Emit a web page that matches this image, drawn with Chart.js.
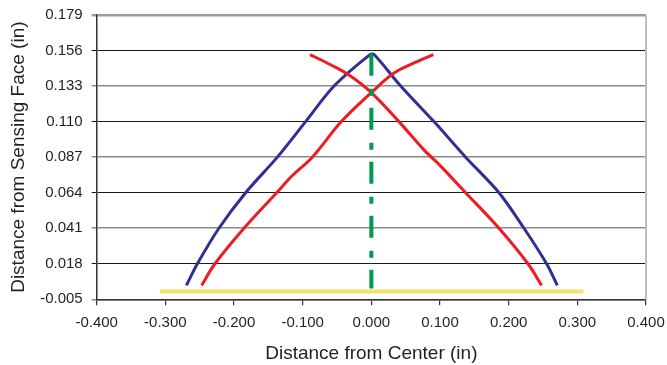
<!DOCTYPE html>
<html>
<head>
<meta charset="utf-8">
<script src="https://cdn.jsdelivr.net/npm/chart.js@4/dist/chart.umd.min.js"></script>
<style>
  html, body { margin: 0; padding: 0; background: #ffffff; }
  #wrap { width: 667px; height: 365px; position: relative; }
</style>
</head>
<body>
<div id="wrap"><canvas id="chart" width="667" height="365"></canvas></div>
<script>
// Axis ticks and their labels
const xTicks = [-0.4, -0.3, -0.2, -0.1, 0, 0.1, 0.2, 0.3, 0.4];
const xTickLabels = ['-0.400', '-0.300', '-0.200', '-0.100', '0.000', '0.100', '0.200', '0.300', '0.400'];
const yTicks = [-0.005, 0.018, 0.041, 0.064, 0.087, 0.110, 0.133, 0.156, 0.179];
const yTickLabels = ['-0.005', '0.018', '0.041', '0.064', '0.087', '0.110', '0.133', '0.156', '0.179'];

// Blue envelope (distance from center, distance from face)
const blueX = [-0.2694, -0.2534, -0.2220, -0.1831, -0.1369, -0.0957, -0.0544, -0.0020,
               0.0040, 0.0427, 0.0912, 0.1373, 0.1859, 0.2223, 0.2553, 0.2709];
const blueY = [0.004, 0.018, 0.041, 0.064, 0.087, 0.110, 0.133, 0.1534,
               0.1534, 0.133, 0.110, 0.087, 0.064, 0.041, 0.018, 0.004];

// Red curve rising to the right
const redUpX = [-0.2472, -0.2278, -0.1855, -0.1379, -0.1150, -0.0860, -0.0437,
                0.0000, 0.0330, 0.0600, 0.0903];
const redUpY = [0.004, 0.018, 0.041, 0.064, 0.0751, 0.087, 0.110,
                0.1288, 0.1414, 0.1475, 0.1534];

// Red curve falling to the right
const redDownX = [-0.0894, -0.0593, -0.0326, 0.0000, 0.0402, 0.0766, 0.1009, 0.1373,
                  0.1859, 0.2281, 0.2480];
const redDownY = [0.1534, 0.1468, 0.1402, 0.1288, 0.110, 0.0917, 0.0812, 0.064,
                  0.041, 0.018, 0.004];

// Center line and face line
const centerX = [0, 0];
const centerY = [0.154, 0.002];
const faceX = [-0.308, 0.309];
const faceY = [0, 0];

const pts = (xs, ys) => xs.map((x, i) => ({ x: x, y: ys[i] }));

const FONT = "'Liberation Sans', Arial, sans-serif";
const TEXT = '#231f20';

// Frame line on the right edge of the plot
const frame = {
  id: 'frame',
  beforeDatasetsDraw(chart) {
    const { ctx, chartArea: a } = chart;
    ctx.save();
    ctx.strokeStyle = '#bdbdbd';
    ctx.lineWidth = 2;
    ctx.beginPath();
    ctx.moveTo(a.right, a.top);
    ctx.lineTo(a.right, a.bottom);
    ctx.stroke();
    ctx.restore();
  }
};

new Chart(document.getElementById('chart'), {
  type: 'scatter',
  data: {
    datasets: [
      {
        data: pts(blueX, blueY), showLine: true, borderColor: '#2e3192', borderWidth: 3,
        pointRadius: 0, tension: 0.3, order: 2
      },
      {
        data: pts(redUpX, redUpY), showLine: true, borderColor: '#ed1c24', borderWidth: 3,
        pointRadius: 0, tension: 0.35, order: 1
      },
      {
        data: pts(redDownX, redDownY), showLine: true, borderColor: '#ed1c24', borderWidth: 3,
        pointRadius: 0, tension: 0.35, order: 1
      },
      {
        data: pts(centerX, centerY), showLine: true, borderColor: '#009a4e', borderWidth: 4,
        borderDash: [22, 13, 7, 12], borderCapStyle: 'butt', pointRadius: 0, order: 0
      },
      {
        data: pts(faceX, faceY), showLine: true, borderColor: '#f2e46a', borderWidth: 4,
        borderCapStyle: 'butt', pointRadius: 0, order: 3
      }
    ]
  },
  options: {
    responsive: false,
    animation: false,
    devicePixelRatio: 1,
    layout: { padding: { left: 0, right: 21, top: 15, bottom: 0 } },
    plugins: { legend: { display: false }, tooltip: { enabled: false } },
    scales: {
      x: {
        type: 'linear', min: -0.4, max: 0.4,
        afterBuildTicks: s => { s.ticks = xTicks.map(v => ({ value: v })); },
        afterFit: s => { s.height = 65.7; s.paddingLeft = 0; s.paddingRight = 0; },
        ticks: {
          autoSkip: false, maxRotation: 0, padding: 9, color: TEXT,
          font: { family: FONT, size: 15 },
          callback: (v, i) => xTickLabels[i]
        },
        grid: { drawOnChartArea: false, drawTicks: true, tickLength: 6, color: '#333333', lineWidth: 1.2 },
        border: { display: true, color: '#333333', width: 1.5 },
        title: {
          display: true, text: 'Distance from Center (in)', color: TEXT,
          font: { family: FONT, size: 19 }, padding: { top: 0, bottom: 0 }
        }
      },
      y: {
        type: 'linear', min: -0.005, max: 0.179,
        afterBuildTicks: s => { s.ticks = yTicks.map(v => ({ value: v })); },
        afterFit: s => { s.width = 96.7; s.paddingTop = 0; s.paddingBottom = 0; },
        ticks: {
          autoSkip: false, padding: 9, color: TEXT,
          font: { family: FONT, size: 15 },
          callback: (v, i) => yTickLabels[i]
        },
        grid: {
          drawTicks: true, tickLength: 5,
          color: c => (c.index === 8 ? '#9a9a9a' : (c.index % 2 === 1 ? '#1a1a1a' : '#8a8a8a')),
          lineWidth: c => (c.index === 8 ? 2.5 : (c.index % 2 === 1 ? 1 : 1.5))
        },
        border: { display: true, color: '#333333', width: 1.5 },
        title: {
          display: true, text: 'Distance from Sensing Face (in)', color: TEXT,
          font: { family: FONT, size: 19 }, padding: { top: 7, bottom: 0 }
        }
      }
    }
  },
  plugins: [frame]
});
</script>
</body>
</html>
